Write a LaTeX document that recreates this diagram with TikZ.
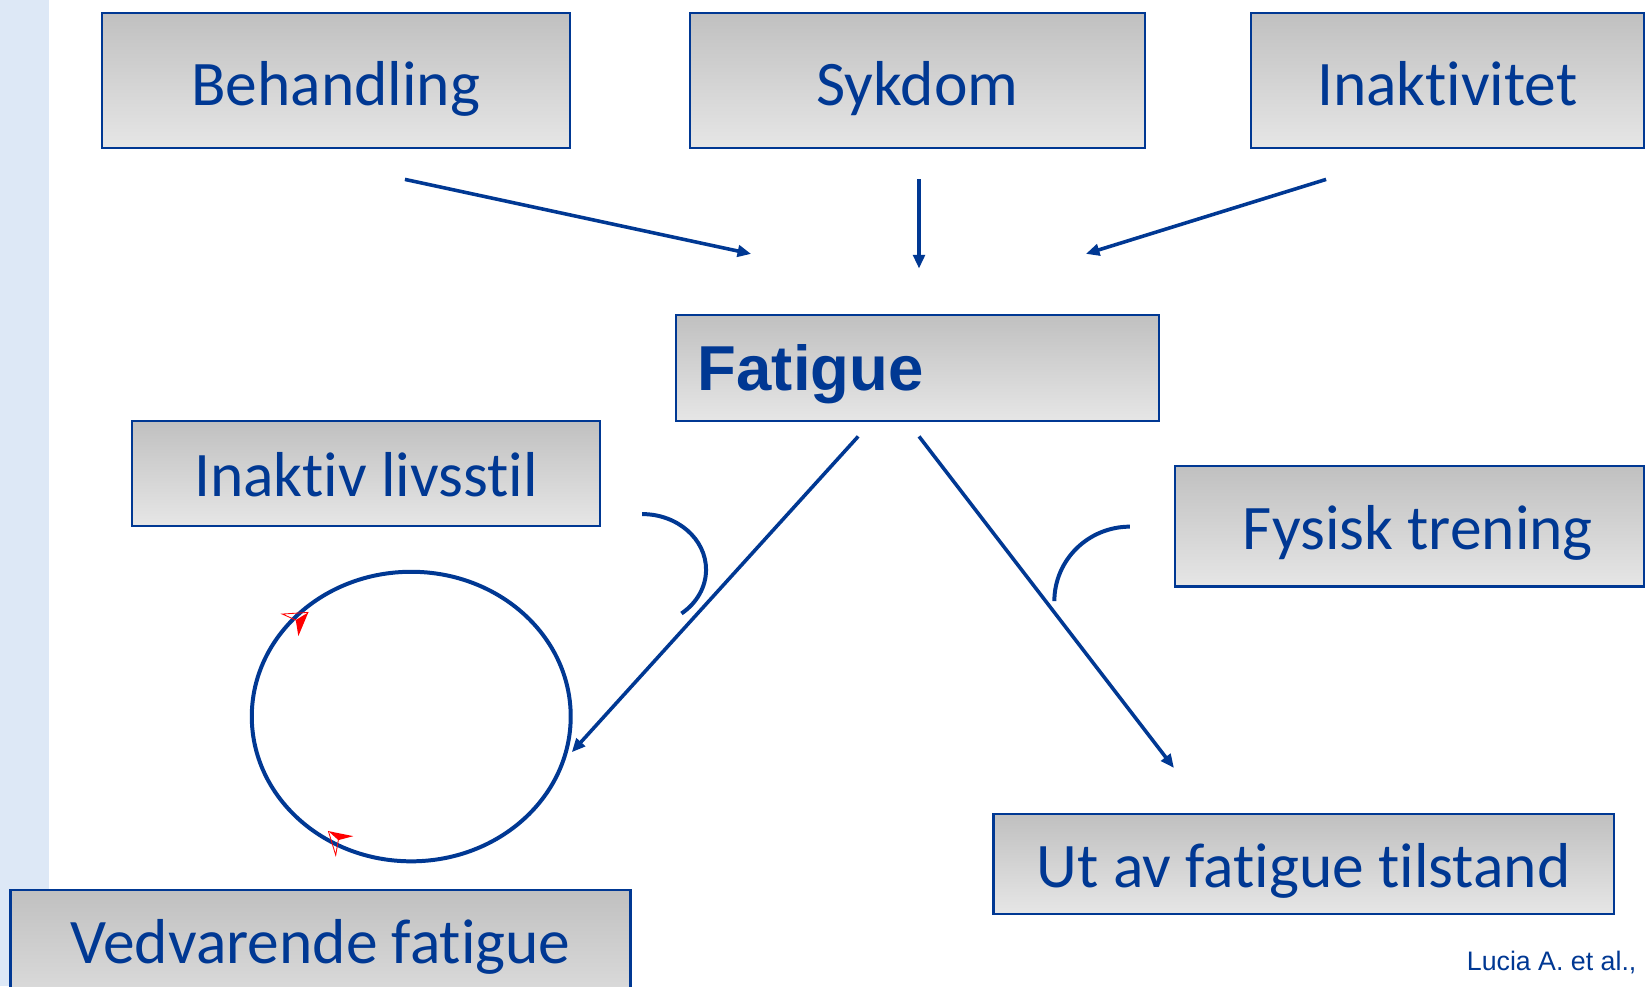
\documentclass[tikz,border=0pt]{standalone}
\usepackage{fontspec}
\setmainfont{Carlito}[Ligatures={NoCommon}]
\newfontfamily\arialfont{Liberation Sans}
\usetikzlibrary{arrows.meta,calc}
\definecolor{dblue}{RGB}{0,56,147}
\definecolor{strip}{RGB}{221,232,246}
\definecolor{gtop}{RGB}{192,192,192}
\definecolor{gbot}{RGB}{230,230,230}
\definecolor{redarrow}{RGB}{255,0,0}
\tikzset{
  box/.style={draw=dblue, line width=2pt, top color=gtop, bottom color=gbot,
    rectangle, inner sep=0pt, minimum width=#1},
  boxtext/.style={text=dblue, inner sep=0pt, anchor=base, font=\fontsize{60.5}{72}\selectfont},
  conn/.style={draw=dblue, line width=3.4pt, -{Triangle[length=13pt,width=11pt]}},
  curve/.style={draw=dblue, line width=3.8pt},
}
\begin{document}
\begin{tikzpicture}[x=1pt,y=-1pt]
\useasboundingbox (0,0) rectangle (1568,940);
\clip (0,0) rectangle (1568,940);
\fill[white] (0,0) rectangle (1568,940);
\fill[strip] (0,0) rectangle (47,940);

% boxes
\node[box=446pt, minimum height=129pt] (beh) at (320,76.5) {};
\node[box=433pt, minimum height=129pt] (syk) at (874.5,76.5) {};
\node[box=375pt, minimum height=129pt] (ina) at (1379.5,76.5) {};
\node[box=461pt, minimum height=101pt] (fat) at (874.5,350.5) {};
\node[box=446pt, minimum height=100pt] (liv) at (349,451) {};
\node[box=447pt, minimum height=115pt] (fys) at (1343.5,501.5) {};
\node[box=591pt, minimum height=95pt] (ut) at (1242.5,823.5) {};
\node[box=591pt, minimum height=142pt] (ved) at (305.5,919) {};

% texts
\node[boxtext] (beh-t) at ($(beh.center)+(0,24.5)$) {Behandling};
\node[boxtext] (syk-t) at ($(syk.center)+(0,24.5)$) {Sykdom};
\node[boxtext] (ina-t) at ($(ina.center)+(0,24.5)$) {Inaktivitet};
\node[boxtext] (liv-t) at ($(liv.center)+(0,22)$) {Inaktiv livsstil};
\node[boxtext] (fys-t) at ($(fys.center)+(8,22.5)$) {Fysisk trening};
\node[boxtext] (ut-t) at ($(ut.center)+(0,22.5)$) {Ut av fatigue tilstand};
\node[boxtext] (ved-t) at (305.5,918) {Vedvarende fatigue};
\node[text=dblue, inner sep=0pt, anchor=base west, font=\arialfont\bfseries\fontsize{60.5}{72}\selectfont] (fat-t) at (665,372) {Fatigue};
\node[text=dblue, inner sep=0pt, anchor=base west, font=\arialfont\fontsize{25.5}{30}\selectfont] (ref) at (1398,925) {Lucia A. et al.,};

% connector end points
\coordinate (a1s) at (386,171); \coordinate (a1e) at (716,242);
\coordinate (a2s) at (876,171); \coordinate (a2e) at (876,256);
\coordinate (a3s) at (1264,171); \coordinate (a3e) at (1035,242);
\coordinate (a4s) at (818,416); \coordinate (a4e) at (545,717);
\coordinate (a5s) at (876,416); \coordinate (a5e) at (1119,732);

\draw[conn] (a1s) -- (a1e);
\draw[conn] (a2s) -- (a2e);
\draw[conn] (a3s) -- (a3e);
\draw[conn] (a4s) -- (a4e);
\draw[conn] (a5s) -- (a5e);

% curves
\draw[curve] (612,490) arc[start angle=-90, end angle=52, x radius=61, y radius=53];
\draw[curve] (1077,502) arc[start angle=-90, end angle=-180, x radius=72, y radius=71];

% cycle ellipse
\draw[curve] (392,683) ellipse[x radius=152, y radius=138];

% red arrowheads
\fill[redarrow] (293.9,583.7) -- (284.4,606.3) -- (281.9,591.0) -- cycle;
\draw[redarrow, line width=0.8pt, line join=miter] (293.9,583.7) -- (269.1,585.3) -- (281.9,591.0);
\fill[redarrow] (313,792.2) -- (336.8,797) -- (322.5,800.8) -- cycle;
\draw[redarrow, line width=0.8pt, line join=miter] (313,792.2) -- (320,815.1) -- (322.5,800.8);
\end{tikzpicture}
\end{document}
